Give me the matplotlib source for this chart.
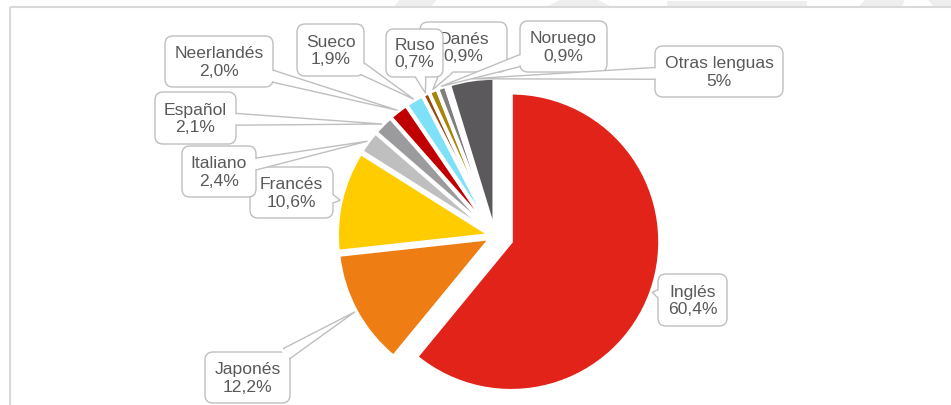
import matplotlib
matplotlib.use('Agg')
import matplotlib.pyplot as plt
from matplotlib.patches import FancyBboxPatch, Polygon
import numpy as np

W, H = 951, 406

# data
languages = ['Inglés', 'Japonés', 'Francés', 'Italiano', 'Español', 'Neerlandés',
             'Sueco', 'Ruso', 'Danés', 'Noruego', '', 'Otras lenguas']
shares = [60.4, 12.2, 10.6, 2.4, 2.1, 2.0, 1.9, 0.7, 0.9, 0.9, 0.3, 4.7]
share_labels = ['60,4%', '12,2%', '10,6%', '2,4%', '2,1%', '2,0%', '1,9%',
                '0,7%', '0,9%', '0,9%', '', '5%']
colors = ['#E2231A', '#EE7D14', '#FFCC00', '#C0BFC0', '#9B9A9C', '#C00000',
          '#7FE1F8', '#974A0C', '#A8850A', '#7F7F7F', '#A6A6A6', '#5B595C']

# callout boxes in image pixels (x0, y0, x1, y1)
boxes = {
    'Inglés': (658, 275, 727, 327),
    'Japonés': (205, 353, 290, 404),
    'Francés': (250, 168, 333, 219),
    'Italiano': (182, 147, 256, 198),
    'Español': (155, 93, 236, 145),
    'Neerlandés': (165, 37, 273, 88),
    'Sueco': (297, 25, 364, 77),
    'Danés': (420, 23, 507, 73),
    'Ruso': (386, 30, 443, 78),
    'Noruego': (520, 22, 607, 73),
    'Otras lenguas': (655, 47, 783, 98),
}

LINE = '#BFBFBF'
TEXT = '#595959'


def Y(y):
    return H - y


fig = plt.figure(figsize=(W / 100, H / 100), dpi=100)
ax = fig.add_axes([0, 0, 1, 1])

explode = [17] + [5] * (len(shares) - 1)
wedges, _ = ax.pie(shares, colors=colors, startangle=90, counterclock=False,
                   radius=153, center=(495, Y(237)), explode=explode,
                   wedgeprops=dict(edgecolor='white', linewidth=2.6))
wedges[0].set_radius(149)
for w in wedges:
    w.set_zorder(2)

ax.set_xlim(0, W)
ax.set_ylim(0, H)
ax.axis('off')

# faint watermark above the chart frame
wm = [
    [(400, 0), (437, 0), (431, 8), (394, 8)],
    [(562, 0), (596, 0), (612, 8), (546, 8)],
    [(667, 2), (807, 2), (807, 8), (667, 8)],
    [(866, 0), (905, 0), (902, 8), (858, 8)],
    [(927, 0), (951, 0), (951, 8), (934, 8)],
]
for pts in wm:
    ax.add_patch(Polygon([(x, Y(y)) for x, y in pts], closed=True,
                         facecolor='#EEEEEE', edgecolor='none', zorder=0))

# chart frame
ax.plot([10, W], [Y(8), Y(8)], color='#D9D9D9', lw=1.5, zorder=1,
        solid_capstyle='butt')
ax.plot([10, 10], [Y(8), 0], color='#D9D9D9', lw=1.5, zorder=1,
        solid_capstyle='butt')

wedge_of = {name: w for name, w in zip(languages, wedges)}
text_of = {name: lab for name, lab in zip(languages, share_labels)}

z = 5
for name, (x0, y0, x1, y1) in boxes.items():
    w = wedge_of[name]
    mid = np.deg2rad((w.theta1 + w.theta2) / 2)
    r = w.r + 1
    tip = np.array([w.center[0] + r * np.cos(mid), w.center[1] + r * np.sin(mid)])

    c = np.array([(x0 + x1) / 2, Y((y0 + y1) / 2)])
    hw, hh = (x1 - x0) / 2, (y1 - y0) / 2
    d = tip - c
    L = np.hypot(*d)
    u = d / L
    perp = np.array([-u[1], u[0]])
    t_edge = min(hw / abs(d[0]) if d[0] else np.inf, hh / abs(d[1]) if d[1] else np.inf)
    edge = c + t_edge * d
    base = edge - 3 * u
    half = 6
    Lb = np.hypot(*(tip - base))

    ax.add_patch(Polygon([base + perp * half, tip, base - perp * half], closed=True,
                         facecolor='white', edgecolor=LINE, lw=1.0, zorder=z,
                         joinstyle='miter'))
    ax.add_patch(FancyBboxPatch((x0, Y(y1)), x1 - x0, y1 - y0,
                                boxstyle='round,pad=0,rounding_size=8',
                                facecolor='white', edgecolor=LINE, lw=1.0,
                                zorder=z + 1))
    # cover the box outline where the tail joins
    s_in = Lb + 3
    s_out = max(Lb - 5, 0)
    p_in = tip - u * s_in
    p_out = tip - u * s_out
    h_in = max(half * s_in / Lb - 1.0, 0)
    h_out = max(half * s_out / Lb - 1.0, 0)
    if h_out > 0:
        ax.add_patch(Polygon([p_in + perp * h_in, p_out + perp * h_out,
                              p_out - perp * h_out, p_in - perp * h_in],
                             closed=True, facecolor='white', edgecolor='none',
                             zorder=z + 2))
    ax.text(c[0], c[1], name + '\n' + text_of[name], ha='center', va='center',
            ma='center', fontsize=12.6, color=TEXT, family='Liberation Sans',
            linespacing=1.2, zorder=z + 3)
    z += 4

fig.savefig('out.png', dpi=100)
